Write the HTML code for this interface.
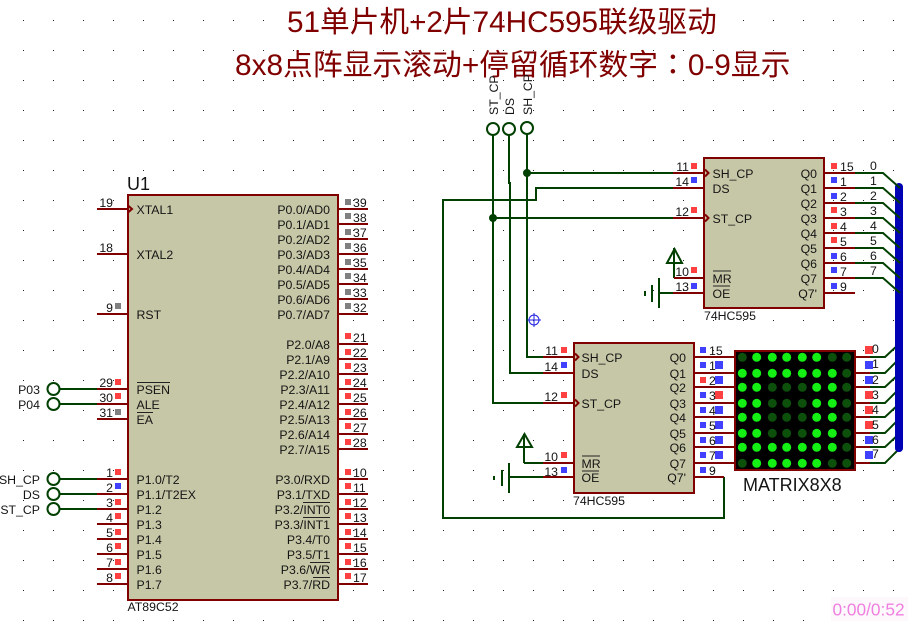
<!DOCTYPE html>
<html><head><meta charset="utf-8"><style>
html,body{margin:0;padding:0;background:#fff;width:908px;height:621px;overflow:hidden}
svg{display:block}
text{font-family:"Liberation Sans",Arial,sans-serif;font-size:12.3px;fill:#141414}
.e{text-anchor:end}
.w{fill:none;stroke:#004000;stroke-width:2}
.p{fill:none;stroke:#800000;stroke-width:2}
.t{font-family:"Liberation Sans","Noto Sans CJK SC",sans-serif;fill:#800000}
</style></head><body>
<svg width="908" height="621" viewBox="0 0 908 621" xmlns="http://www.w3.org/2000/svg">
<defs><pattern id="g" x="0" y="0" width="30" height="30" patternUnits="userSpaceOnUse"><rect x="23" y="20" width="1" height="1" fill="#222"/></pattern></defs>
<rect width="908" height="621" fill="#fff"/>
<rect width="908" height="621" fill="url(#g)"/>

<text class="t" x="287" y="32" style="font-size:29.7px">51单片机+2片74HC595联级驱动</text>
<text class="t" x="235" y="75" style="font-size:29.8px">8x8点阵显示滚动+停留循环数字<tspan style="font-family:'Noto Sans CJK TC',sans-serif">：</tspan>0-9显示</text>

<!-- U1 -->
<rect x="128" y="195" width="210" height="405" fill="#c6c7a7" stroke="#800000" stroke-width="2"/>
<text x="127" y="190" style="font-size:18px">U1</text>
<text x="127.5" y="611">AT89C52</text>
<path class="p" d="M97 209H127M97 254H127M97 314H127M97 389H127M97 404H127M97 419H127M97 479H127M97 494H127M97 509H127M97 524H127M97 539H127M97 554H127M97 569H127M97 584H127"/>
<path class="p" d="M339 209H368M339 224H368M339 239H368M339 254H368M339 269H368M339 284H368M339 299H368M339 314H368M339 344H368M339 359H368M339 374H368M339 389H368M339 404H368M339 419H368M339 434H368M339 449H368M339 479H368M339 494H368M339 509H368M339 524H368M339 539H368M339 554H368M339 569H368M339 584H368"/>
<path class="p" d="M128 205.500L132 209L128 212.500"/>

<text x="136.500" y="214">XTAL1</text><text x="136.500" y="259">XTAL2</text><text x="136.500" y="319">RST</text>
<text x="136.500" y="394">PSEN</text><text x="136.500" y="409">ALE</text><text x="136.500" y="424">EA</text>
<text x="136.500" y="484">P1.0/T2</text><text x="136.500" y="499">P1.1/T2EX</text><text x="136.500" y="514">P1.2</text><text x="136.500" y="529">P1.3</text><text x="136.500" y="544">P1.4</text><text x="136.500" y="559">P1.5</text><text x="136.500" y="574">P1.6</text><text x="136.500" y="589">P1.7</text>
<path d="M137 382.500H170M137 412.500H153M303 502.500H330M303 517.500H330M310 562.500H330M313 577.500H330" stroke="#222" stroke-width="1" fill="none"/>

<text class="e" x="330" y="214">P0.0/AD0</text><text class="e" x="330" y="229">P0.1/AD1</text><text class="e" x="330" y="244">P0.2/AD2</text><text class="e" x="330" y="259">P0.3/AD3</text><text class="e" x="330" y="274">P0.4/AD4</text><text class="e" x="330" y="289">P0.5/AD5</text><text class="e" x="330" y="304">P0.6/AD6</text><text class="e" x="330" y="319">P0.7/AD7</text>
<text class="e" x="330" y="349">P2.0/A8</text><text class="e" x="330" y="364">P2.1/A9</text><text class="e" x="330" y="379">P2.2/A10</text><text class="e" x="330" y="394">P2.3/A11</text><text class="e" x="330" y="409">P2.4/A12</text><text class="e" x="330" y="424">P2.5/A13</text><text class="e" x="330" y="439">P2.6/A14</text><text class="e" x="330" y="454">P2.7/A15</text>
<text class="e" x="330" y="484">P3.0/RXD</text><text class="e" x="330" y="499">P3.1/TXD</text><text class="e" x="330" y="514">P3.2/INT0</text><text class="e" x="330" y="529">P3.3/INT1</text><text class="e" x="330" y="544">P3.4/T0</text><text class="e" x="330" y="559">P3.5/T1</text><text class="e" x="330" y="574">P3.6/WR</text><text class="e" x="330" y="589">P3.7/RD</text>

<text class="e" x="113" y="207">19</text><text class="e" x="113" y="252">18</text><text class="e" x="113" y="312">9</text><text class="e" x="113" y="387">29</text><text class="e" x="113" y="402">30</text><text class="e" x="113" y="417">31</text><text class="e" x="113" y="477">1</text><text class="e" x="113" y="492">2</text><text class="e" x="113" y="507">3</text><text class="e" x="113" y="522">4</text><text class="e" x="113" y="537">5</text><text class="e" x="113" y="552">6</text><text class="e" x="113" y="567">7</text><text class="e" x="113" y="582">8</text>

<text x="353" y="207">39</text><text x="353" y="222">38</text><text x="353" y="237">37</text><text x="353" y="252">36</text><text x="353" y="267">35</text><text x="353" y="282">34</text><text x="353" y="297">33</text><text x="353" y="312">32</text>
<text x="353" y="342">21</text><text x="353" y="357">22</text><text x="353" y="372">23</text><text x="353" y="387">24</text><text x="353" y="402">25</text><text x="353" y="417">26</text><text x="353" y="432">27</text><text x="353" y="447">28</text>
<text x="353" y="477">10</text><text x="353" y="492">11</text><text x="353" y="507">12</text><text x="353" y="522">13</text><text x="353" y="537">14</text><text x="353" y="552">15</text><text x="353" y="567">16</text><text x="353" y="582">17</text>

<!-- pin squares grey -->
<path fill="#808080" d="M115 303h6v6h-6zM115 409h6v6h-6zM345 199h6v6h-6zM345 213h6v6h-6zM345 229h6v6h-6zM345 243h6v6h-6zM345 259h6v6h-6zM345 273h6v6h-6zM345 289h6v6h-6zM345 303h6v6h-6z"/>
<!-- red -->
<path fill="#ff4040" d="M115 379h6v6h-6zM115 393h6v6h-6zM115 469h6v6h-6zM115 499h6v6h-6zM115 513h6v6h-6zM115 529h6v6h-6zM115 543h6v6h-6zM115 559h6v6h-6zM115 573h6v6h-6z
M345 333h6v6h-6zM345 349h6v6h-6zM345 363h6v6h-6zM345 379h6v6h-6zM345 393h6v6h-6zM345 409h6v6h-6zM345 423h6v6h-6zM345 439h6v6h-6zM345 469h6v6h-6zM345 483h6v6h-6zM345 499h6v6h-6zM345 513h6v6h-6zM345 529h6v6h-6zM345 543h6v6h-6zM345 559h6v6h-6zM345 573h6v6h-6z
M691 163h6v6h-6zM691 207h6v6h-6zM691 267h6v6h-6zM831 163h6v6h-6zM831 207h6v6h-6zM831 223h6v6h-6zM831 237h6v6h-6z
M561 347h6v6h-6zM561 392h6v6h-6zM561 452h6v6h-6zM700 377h6v6h-6zM715 391h8v8h-8zM865 346h8v8h-8zM865 391h8v8h-8zM865 406h8v8h-8zM865 421h8v8h-8z"/>
<!-- blue -->
<path fill="#4040ff" d="M115 483h6v6h-6zM691 177h6v6h-6zM691 283h6v6h-6zM831 177h6v6h-6zM831 193h6v6h-6zM831 253h6v6h-6zM831 267h6v6h-6zM831 283h6v6h-6z
M561 362h6v6h-6zM561 467h6v6h-6zM700 347h6v6h-6zM700 362h6v6h-6zM700 392h6v6h-6zM700 407h6v6h-6zM700 422h6v6h-6zM700 437h6v6h-6zM700 452h6v6h-6zM700 467h6v6h-6z
M715 361h8v8h-8zM715 376h8v8h-8zM715 406h8v8h-8zM715 421h8v8h-8zM715 436h8v8h-8zM715 451h8v8h-8zM865 361h8v8h-8zM865 376h8v8h-8zM865 436h8v8h-8zM865 451h8v8h-8z"/>

<!-- left terminals -->
<g class="w"><path class="w" d="M60 389H97M60 404H97M60 479H97M60 494H97M60 509H97"/>
<circle class="w" cx="53.500" cy="389" r="6"/><circle class="w" cx="53.500" cy="404" r="6"/><circle class="w" cx="53.500" cy="479" r="6"/><circle class="w" cx="53.500" cy="494" r="6"/><circle class="w" cx="53.500" cy="509" r="6"/></g>
<text class="e" x="40" y="394">P03</text><text class="e" x="40" y="409">P04</text><text class="e" x="40" y="484">SH_CP</text><text class="e" x="40" y="499">DS</text><text class="e" x="40" y="514">ST_CP</text>

<!-- top terminals and wires -->
<circle class="w" cx="493" cy="129" r="6"/><circle class="w" cx="509" cy="129" r="6"/><circle class="w" cx="527" cy="128" r="6"/>
<text transform="translate(498,115) rotate(-90)">ST_CP</text>
<text transform="translate(514,115) rotate(-90)">DS</text>
<text transform="translate(532,115) rotate(-90)">SH_CP</text>
<path class="w" d="M493 135V403H543M509 135V183H510V373H543M527 134V357H543M527 173H673M493 218H673M673 188H536V200H443V518H724V477M674 278V248M667 263L674.500 249L682 263ZM674 278H704M659 293H673M659 278V308M652 285V302"/>
<path d="M644 291h2v5h-2z" fill="#004000"/>
<circle cx="527" cy="173" r="4" fill="#004000"/><circle cx="493" cy="218" r="4" fill="#004000"/>
<!-- lower power/ground -->
<path class="w" d="M524 463V434M517 447L524.500 434L532 447ZM524 463H543M509 477H543M509 463V493M502 470V486"/>
<path d="M493 476h2v4h-2z" fill="#004000"/>
<!-- crosshair -->
<g fill="none" stroke="#2020e0" stroke-width="1"><circle cx="534" cy="320" r="5"/><path d="M527 320H541M534 313V327"/></g>

<!-- 74HC595 top -->
<rect x="704" y="158" width="120" height="150" fill="#c6c7a7" stroke="#800000" stroke-width="2"/>
<path class="p" d="M673 173H703M673 188H703M673 218H703M674 278H703M673 293H703M825 173H855M825 188H855M825 203H855M825 218H855M825 233H855M825 248H855M825 263H855M825 278H855M825 293H855M705 169.500L708.500 173L705 176.500M705 214.500L708.500 218L705 221.500"/>
<text x="712.500" y="178">SH_CP</text><text x="712.500" y="193">DS</text><text x="712.500" y="223">ST_CP</text><text x="712.500" y="283">MR</text><text x="712.500" y="298">OE</text>
<path d="M713 271H731M713 286H730" stroke="#222" stroke-width="1"/>
<text class="e" x="817" y="178">Q0</text><text class="e" x="817" y="193">Q1</text><text class="e" x="817" y="208">Q2</text><text class="e" x="817" y="223">Q3</text><text class="e" x="817" y="238">Q4</text><text class="e" x="817" y="253">Q5</text><text class="e" x="817" y="268">Q6</text><text class="e" x="817" y="283">Q7</text><text class="e" x="817" y="298">Q7'</text>
<text x="704" y="320">74HC595</text>
<text class="e" x="689" y="171">11</text><text class="e" x="689" y="186">14</text><text class="e" x="689" y="216">12</text><text class="e" x="689" y="276">10</text><text class="e" x="689" y="291">13</text>
<text x="840" y="171">15</text><text x="840" y="186">1</text><text x="840" y="201">2</text><text x="840" y="216">3</text><text x="840" y="231">4</text><text x="840" y="246">5</text><text x="840" y="261">6</text><text x="840" y="276">7</text><text x="840" y="291">9</text>
<text x="870" y="170">0</text><text x="870" y="185">1</text><text x="870" y="200">2</text><text x="870" y="215">3</text><text x="870" y="230">4</text><text x="870" y="245">5</text><text x="870" y="260">6</text><text x="870" y="275">7</text>

<!-- bus -->
<path d="M899 187V448" stroke="#0000b4" stroke-width="8" stroke-linecap="round" fill="none"/>
<path class="w" d="M855 173H883L900 188M855 188H883L900 203M855 203H883L900 218M855 218H883L900 233M855 233H883L900 248M855 248H883L900 263M855 263H883L900 278M855 278H883L900 293"/>

<!-- 74HC595 lower -->
<rect x="574" y="343" width="120" height="150" fill="#c6c7a7" stroke="#800000" stroke-width="2"/>
<path class="p" d="M543 357H573M543 373H573M543 403H573M543 463H573M543 477H573M695 357H735M695 373H735M695 387H735M695 403H735M695 417H735M695 433H735M695 447H735M695 463H735M695 477H724M575 353.500L578.500 357L575 360.500M575 399.500L578.500 403L575 406.500"/>
<text x="581.500" y="362">SH_CP</text><text x="581.500" y="378">DS</text><text x="581.500" y="408">ST_CP</text><text x="581.500" y="468">MR</text><text x="581.500" y="482">OE</text>
<path d="M582 456H600M582 471H599" stroke="#222" stroke-width="1"/>
<text class="e" x="686" y="362">Q0</text><text class="e" x="686" y="378">Q1</text><text class="e" x="686" y="392">Q2</text><text class="e" x="686" y="408">Q3</text><text class="e" x="686" y="422">Q4</text><text class="e" x="686" y="438">Q5</text><text class="e" x="686" y="452">Q6</text><text class="e" x="686" y="468">Q7</text><text class="e" x="686" y="482">Q7'</text>
<text x="573" y="505">74HC595</text>
<text class="e" x="558" y="355">11</text><text class="e" x="558" y="371">14</text><text class="e" x="558" y="401">12</text><text class="e" x="558" y="461">10</text><text class="e" x="558" y="476">13</text>
<text x="709" y="355">15</text><text x="709" y="370">1</text><text x="709" y="385">2</text><text x="709" y="400">3</text><text x="709" y="415">4</text><text x="709" y="430">5</text><text x="709" y="445">6</text><text x="709" y="460">7</text><text x="709" y="475">9</text>

<!-- matrix -->
<rect x="735" y="351" width="120" height="119" fill="#000" stroke="#800000" stroke-width="2"/>
<path class="p" d="M855 357H870M855 373H870M855 387H870M855 403H870M855 417H870M855 433H870M855 447H870M855 463H870"/>
<path class="w" d="M870 357H885L900 343M870 373H885L900 358M870 387H885L900 373M870 403H885L900 388M870 417H885L900 403M870 433H885L900 418M870 447H885L900 433M870 463H885L900 448"/>
<path d="M899 340V448" stroke="#0000b4" stroke-width="8" stroke-linecap="round" fill="none"/>
<text x="872" y="353">0</text><text x="872" y="368">1</text><text x="872" y="384">2</text><text x="872" y="399">3</text><text x="872" y="414">4</text><text x="872" y="429">5</text><text x="872" y="444">6</text><text x="872" y="458">7</text>
<g fill="#0c500c">
<circle cx="742.300" cy="357.300" r="4.500"/><circle cx="832.300" cy="357.300" r="4.500"/><circle cx="846.700" cy="357.300" r="4.500"/>
<circle cx="846.700" cy="373.300" r="4.500"/>
<circle cx="772.300" cy="387.300" r="4.500"/><circle cx="786.700" cy="387.300" r="4.500"/><circle cx="802.300" cy="387.300" r="4.500"/><circle cx="846.700" cy="387.300" r="4.500"/>
<circle cx="772.300" cy="403.300" r="4.500"/><circle cx="786.700" cy="403.300" r="4.500"/><circle cx="802.300" cy="403.300" r="4.500"/><circle cx="846.700" cy="403.300" r="4.500"/>
<circle cx="772.300" cy="417.300" r="4.500"/><circle cx="786.700" cy="417.300" r="4.500"/><circle cx="802.300" cy="417.300" r="4.500"/><circle cx="846.700" cy="417.300" r="4.500"/>
<circle cx="772.300" cy="433.300" r="4.500"/><circle cx="786.700" cy="433.300" r="4.500"/><circle cx="802.300" cy="433.300" r="4.500"/><circle cx="846.700" cy="433.300" r="4.500"/>
<circle cx="846.700" cy="447.300" r="4.500"/>
<circle cx="742.300" cy="463.300" r="4.500"/><circle cx="832.300" cy="463.300" r="4.500"/><circle cx="846.700" cy="463.300" r="4.500"/>
</g>
<g fill="#14f014">
<circle cx="756.700" cy="357.300" r="4.500"/><circle cx="772.300" cy="357.300" r="4.500"/><circle cx="786.700" cy="357.300" r="4.500"/><circle cx="802.300" cy="357.300" r="4.500"/><circle cx="816.700" cy="357.300" r="4.500"/>
<circle cx="742.300" cy="373.300" r="4.500"/><circle cx="756.700" cy="373.300" r="4.500"/><circle cx="772.300" cy="373.300" r="4.500"/><circle cx="786.700" cy="373.300" r="4.500"/><circle cx="802.300" cy="373.300" r="4.500"/><circle cx="816.700" cy="373.300" r="4.500"/><circle cx="832.300" cy="373.300" r="4.500"/>
<circle cx="742.300" cy="387.300" r="4.500"/><circle cx="756.700" cy="387.300" r="4.500"/><circle cx="816.700" cy="387.300" r="4.500"/><circle cx="832.300" cy="387.300" r="4.500"/>
<circle cx="742.300" cy="403.300" r="4.500"/><circle cx="756.700" cy="403.300" r="4.500"/><circle cx="816.700" cy="403.300" r="4.500"/><circle cx="832.300" cy="403.300" r="4.500"/>
<circle cx="742.300" cy="417.300" r="4.500"/><circle cx="756.700" cy="417.300" r="4.500"/><circle cx="816.700" cy="417.300" r="4.500"/><circle cx="832.300" cy="417.300" r="4.500"/>
<circle cx="742.300" cy="433.300" r="4.500"/><circle cx="756.700" cy="433.300" r="4.500"/><circle cx="816.700" cy="433.300" r="4.500"/><circle cx="832.300" cy="433.300" r="4.500"/>
<circle cx="742.300" cy="447.300" r="4.500"/><circle cx="756.700" cy="447.300" r="4.500"/><circle cx="772.300" cy="447.300" r="4.500"/><circle cx="786.700" cy="447.300" r="4.500"/><circle cx="802.300" cy="447.300" r="4.500"/><circle cx="816.700" cy="447.300" r="4.500"/><circle cx="832.300" cy="447.300" r="4.500"/>
<circle cx="756.700" cy="463.300" r="4.500"/><circle cx="772.300" cy="463.300" r="4.500"/><circle cx="786.700" cy="463.300" r="4.500"/><circle cx="802.300" cy="463.300" r="4.500"/><circle cx="816.700" cy="463.300" r="4.500"/>
</g>
<text x="743" y="491" style="font-size:18px">MATRIX8X8</text>

<!-- timer -->
<rect x="831" y="597" width="77" height="24" fill="#fdf8fc"/>
<text x="832.500" y="615.500" style="font-size:17.300px;fill:#f080e0">0:00/0:52</text>
</svg>
</body></html>
